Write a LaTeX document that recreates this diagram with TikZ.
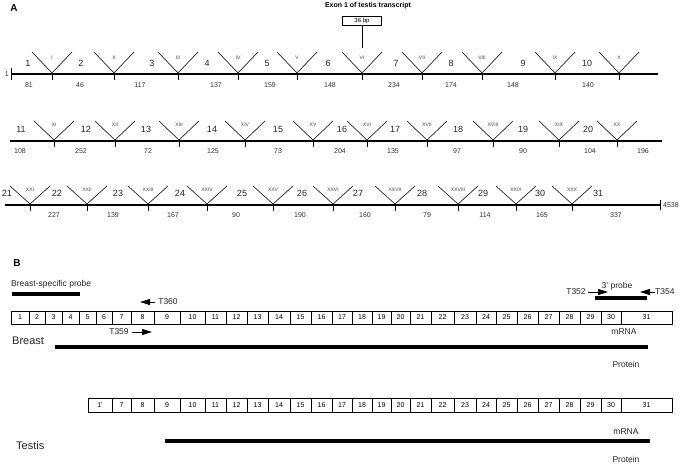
\documentclass[tikz,border=0pt]{standalone}
\usepackage{fontspec}
\setmainfont{Liberation Sans}
\usetikzlibrary{arrows.meta}

\begin{document}
\begin{tikzpicture}[x=1pt,y=-1pt]

\tikzset{gene/.style={line width=2.6pt},
varm/.style={line width=0.7pt,black!85},
endtick/.style={line width=0.6pt},
roman/.style={font=\fontsize{5}{6}\selectfont,inner sep=0pt,text=black!75},
exnum/.style={font=\fontsize{9}{10}\selectfont,inner sep=0pt,text=black!85},
bplen/.style={font=\fontsize{7}{8}\selectfont,inner sep=0pt,text=black!80},
exbox/.style={draw,line width=0.5pt,minimum height=13pt,inner sep=0pt,font=\fontsize{7}{8}\selectfont},
bar/.style={line width=4.5pt},
lbl/.style={font=\fontsize{8.5}{10}\selectfont,inner sep=0pt,text=black!85},
big/.style={font=\fontsize{11}{12}\selectfont,inner sep=0pt,text=black!85},
primer/.style={-{Triangle[length=10pt,width=6pt]},line width=1pt}}

\newcommand{\rowoney}{74}
\newcommand{\rowtwoy}{141}
\newcommand{\rowthreey}{205}
\newcommand{\brmrnay}{317.5}
\newcommand{\tsmrnay}{405}

\useasboundingbox (0,0) rectangle (685,466);

% A: genomic structure
\node[font=\bfseries\fontsize{10}{12}\selectfont] (labA) at (14,8) {A};

\node[font=\bfseries\fontsize{7}{8}\selectfont,inner sep=0pt] (tstitle) at (368,6) {Exon 1 of testis transcript};
\node[exbox,minimum width=39pt,minimum height=9pt,font=\fontsize{6}{7}\selectfont] (tsbox) at (362,21) {36 bp};
\coordinate (tsend) at (362,48);
\draw[line width=0.7pt] (tsbox.south) -- (tsend);

% row 1
\draw[gene] (11,\rowoney) -- (658,\rowoney);
\draw[endtick] (11,\rowoney-6) -- (11,\rowoney+6);
\node[bplen,anchor=east] (gstart) at (9,\rowoney) {1};
\foreach \vx/\rn [count=\i] in {52/I,114/II,178/III,238/IV,297/V,362/VI,422/VII,482/VIII,555/IX,619/X}{
  \draw[varm] (\vx-20,\rowoney-22) -- (\vx,\rowoney-1) -- (\vx+20,\rowoney-22);
  \draw[endtick] (\vx,\rowoney) -- (\vx,\rowoney+6);
  \node[roman] (ra\i) at (\vx,\rowoney-16) {\rn};
}
\foreach \nx/\nn in {28/1,81/2,152/3,207/4,267/5,328/6,396/7,451/8,523/9,587/10}
  \node[exnum] (ea\nn) at (\nx,\rowoney-11) {\nn};
\foreach \lx/\ln [count=\i] in {29/81,80/46,140/117,216/137,270/159,330/148,394/234,451/174,513/148,588/140}
  \node[bplen] (la\i) at (\lx,\rowoney+11) {\ln};

% row 2
\draw[gene] (10,\rowtwoy) -- (662,\rowtwoy);
\foreach \vx/\rn [count=\i] in {54/XI,115/XII,179/XIII,245/XIV,313/XV,367/XVI,427/XVII,493/XVIII,559/XIX,617/XX}{
  \draw[varm] (\vx-20,\rowtwoy-20) -- (\vx,\rowtwoy-1) -- (\vx+20,\rowtwoy-20);
  \draw[endtick] (\vx,\rowtwoy) -- (\vx,\rowtwoy+6);
  \node[roman] (rb\i) at (\vx,\rowtwoy-16) {\rn};
}
\foreach \nx/\nn in {21/11,86/12,146/13,212/14,278/15,342/16,395/17,458/18,523/19,588/20}
  \node[exnum] (eb\nn) at (\nx,\rowtwoy-12) {\nn};
\foreach \lx/\ln [count=\i] in {20/108,81/252,148/72,213/125,278/73,340/204,393/135,457/97,523/90,590/104,643/196}
  \node[bplen] (lb\i) at (\lx,\rowtwoy+10) {\ln};

% row 3
\draw[gene] (5,\rowthreey) -- (660,\rowthreey);
\draw[endtick] (660,\rowthreey-5) -- (660,\rowthreey+5);
\node[bplen,anchor=west] (gend) at (663,\rowthreey) {4538};
\foreach \vx/\rn [count=\i] in {30/XXI,87/XXII,148/XXIII,207/XXIV,273/XXV,333/XXVI,395/XXVII,458/XXVIII,516/XXIX,572/XXX}{
  \draw[varm] (\vx-20,\rowthreey-19) -- (\vx,\rowthreey-1) -- (\vx+20,\rowthreey-19);
  \draw[endtick] (\vx,\rowthreey) -- (\vx,\rowthreey+6);
  \node[roman] (rc\i) at (\vx,\rowthreey-15) {\rn};
}
\foreach \nx/\nn in {7/21,57/22,118/23,180/24,242/25,302/26,358/27,422/28,483/29,540/30,598/31}
  \node[exnum] (ec\nn) at (\nx,\rowthreey-12) {\nn};
\foreach \lx/\ln [count=\i] in {54/227,113/139,173/167,236/90,300/190,365/160,427/79,485/114,542/165,616/337}
  \node[bplen] (lc\i) at (\lx,\rowthreey+10) {\ln};

% B: transcripts
\node[font=\bfseries\fontsize{10}{12}\selectfont] (labB) at (17,263) {B};
\node[lbl,anchor=west] (bsprobe) at (11,284) {Breast-specific probe};
\draw[bar] (12,294) -- (80,294);

\node[lbl] (tthree) at (617,286) {3' probe};
\draw[bar] (595,298) -- (647,298);
\node[lbl] (t352) at (576,292) {T352};
\draw[primer] (588,292) -- (608,292);
\node[lbl,anchor=west] (t354) at (655,292) {T354};
\draw[primer] (t354.west) -- (640,292);

\node[lbl] (t360) at (168,302) {T360};
\draw[primer] (155,302) -- (140,302);
\node[lbl] (t359) at (119,332) {T359};
\draw[primer] (132,332) -- (152,332);

\foreach \l/\r [count=\i] in {11/29,29/45,45/62,62/79,79/96,96/112,112/131,131/154,154/180,180/205,205/226,226/247,247/268,268/290,290/311,311/332,332/352,352/372,372/391,391/410,410/431,431/454,454/476,476/496,496/517,517/538,538/559,559/580,580/601,601/621,621/672}
  \node[exbox,minimum width={(\r-\l)*1pt}] (bm\i) at ({(\l+\r)/2},\brmrnay) {\i};

\node[big,anchor=west] (breast) at (12,341) {Breast};
\node[lbl] (bmrna) at (624,332) {mRNA};
\draw[bar] (55,347) -- (648,347);
\node[lbl] (bprot) at (626,364) {Protein};

\foreach \l/\r/\t [count=\i] in {88/112/1',112/131/7,131/154/8,154/180/9,180/205/10,205/226/11,226/247/12,247/268/13,268/290/14,290/311/15,311/332/16,332/352/17,352/372/18,372/391/19,391/410/20,410/431/21,431/454/22,454/476/23,476/496/24,496/517/25,517/538/26,538/559/27,559/580/28,580/601/29,601/621/30,621/672/31}
  \node[exbox,minimum width={(\r-\l)*1pt},minimum height=14pt] (tm\i) at ({(\l+\r)/2},\tsmrnay) {\t};

\node[big,anchor=west] (testis) at (16,446) {Testis};
\node[lbl] (tmrna) at (626,432) {mRNA};
\draw[bar] (165,441) -- (650,441);
\node[lbl] (tprot) at (626,459) {Protein};

\end{tikzpicture}
\end{document}
